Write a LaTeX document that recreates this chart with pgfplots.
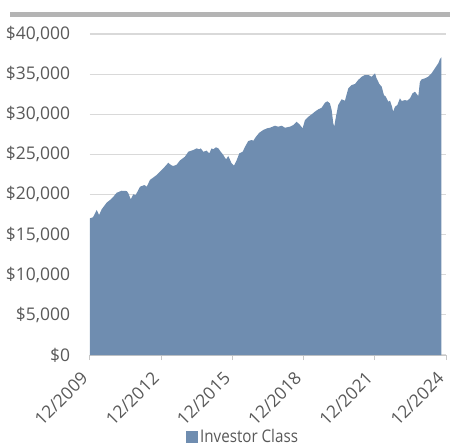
\documentclass[border=0pt]{standalone}
\usepackage{pgfplots}
\pgfplotsset{compat=1.18}
\usepackage{fontspec}
\setmainfont{Open Sans}
\newfontfamily\legfont{Open Sans}[FakeStretch=0.87]
\definecolor{areacol}{HTML}{6F8DB0}
\definecolor{gridgray}{HTML}{D9D9D9}
\definecolor{axgray}{HTML}{C8C8C8}
\definecolor{txtgray}{HTML}{595959}
\definecolor{bargray}{HTML}{B4B4B4}
\begin{document}
\begin{tikzpicture}
\path[use as bounding box] (-90bp,-93bp) rectangle (360bp,355bp);
\fill[bargray] (-80bp,338bp) rectangle (360bp,343bp);
\begin{axis}[
  at={(0,0)}, anchor=south west,
  scale only axis, width=356bp, height=321bp,
  xmin=0, xmax=180, ymin=0, ymax=40000,
  axis x line=bottom, axis y line=left,
  x axis line style={-, draw=axgray, line width=1bp},
  y axis line style={draw=none},
  xtick={0,36,72,108,144,180},
  xticklabels={12/2009,12/2012,12/2015,12/2018,12/2021,12/2024},
  xtick align=outside,
  x tick style={draw=axgray, line width=1bp},
  major tick length=5bp,
  ytick={0,5000,...,40000},
  y tick style={draw=none},
  ymajorgrids, grid style={draw=gridgray, line width=1.2bp},
  /pgf/number format/assume math mode=true,
  scaled y ticks=false,
  yticklabel={\$\pgfmathprintnumber[fixed,1000 sep={,}]{\tick}},
  yticklabel style={font=\fontsize{17.5}{20}\selectfont, text=txtgray, xshift=-14bp},
  xticklabel style={xshift=-3bp, yshift=-13bp, font=\fontsize{17.5}{20}\selectfont, text=txtgray, rotate=45, anchor=east},
  legend style={draw=none, at={(0.43,-0.255)}, anchor=center, font=\legfont\fontsize{17.5}{20}\selectfont, text=txtgray, inner sep=0pt},
  legend image code/.code={\fill[areacol] (0bp,-6bp) rectangle (12bp,6bp);},
]
\addplot[fill=areacol, draw=none] coordinates {
(0,17030) (1.5,17160) (3.4,18070) (4.6,17440) (5.9,18150) (8.4,18980) (10.1,19310)
(11.8,19720) (13.5,20220) (16.0,20470) (18.6,20430) (19.4,20150) (20.6,19400)
(21.9,20020) (23.1,19940) (25.3,20970) (27.5,21180) (28.7,20970) (30.3,21810)
(33.7,22430) (37.1,23260) (39.6,23960) (40.9,23670) (42.1,23550) (43.8,23710)
(45.5,24250) (48.0,24710) (49.7,25330) (52.2,25540) (53.9,25750) (55.3,25630)
(56.0,25750) (57.3,25330) (59.0,25460) (60.3,25130) (61.5,25750) (62.3,25630)
(63.7,25880) (64.9,25750) (66.1,25330) (67.4,24920) (68.8,24380) (69.9,24800)
(71.6,23890) (72.8,23590) (74.2,24300) (75.5,25130) (77.2,25330) (78.4,25950)
(80.0,26660) (81.7,26790) (82.6,26700) (83.9,27200) (85.6,27700) (87.6,28040)
(89.6,28250) (91.0,28320) (93.5,28570) (95.2,28450) (96.9,28570) (98.6,28320)
(101.1,28450) (102.8,28660) (104.5,29070) (106.2,28660) (107.5,28250) (108.7,29280)
(110.4,29690) (112.1,29990) (113.7,30320) (115.4,30610) (117.1,30810) (118.8,31440)
(120.0,31610) (121.3,31360) (122.2,30530) (123.0,28870) (123.5,28450) (124.2,29490)
(125.5,31150) (127.2,31860) (128.9,31690) (130.6,33230) (132.3,33640) (134.0,33770)
(135.6,34270) (137.4,34680) (139.0,34890) (140.7,34890) (142.4,34680) (144.1,35100)
(144.9,34480) (146.3,33770) (147.5,33430) (148.6,32400) (149.6,32180) (150.8,31560)
(151.7,31690) (152.7,30940) (153.3,30320) (154.2,30940) (155.4,31150) (156.7,31990)
(157.6,31650) (159.3,31770) (160.4,31690) (161.8,31990) (163.1,32610) (164.3,32810)
(166.0,32270) (166.8,34050) (167.7,34350) (169.4,34480) (171.0,34680) (172.7,35100)
(174.4,35720) (176.1,36350) (176.9,36840) (177.6,37090)
} \closedcycle;
\addlegendentry{Investor Class}
\end{axis}
\end{tikzpicture}
\end{document}
